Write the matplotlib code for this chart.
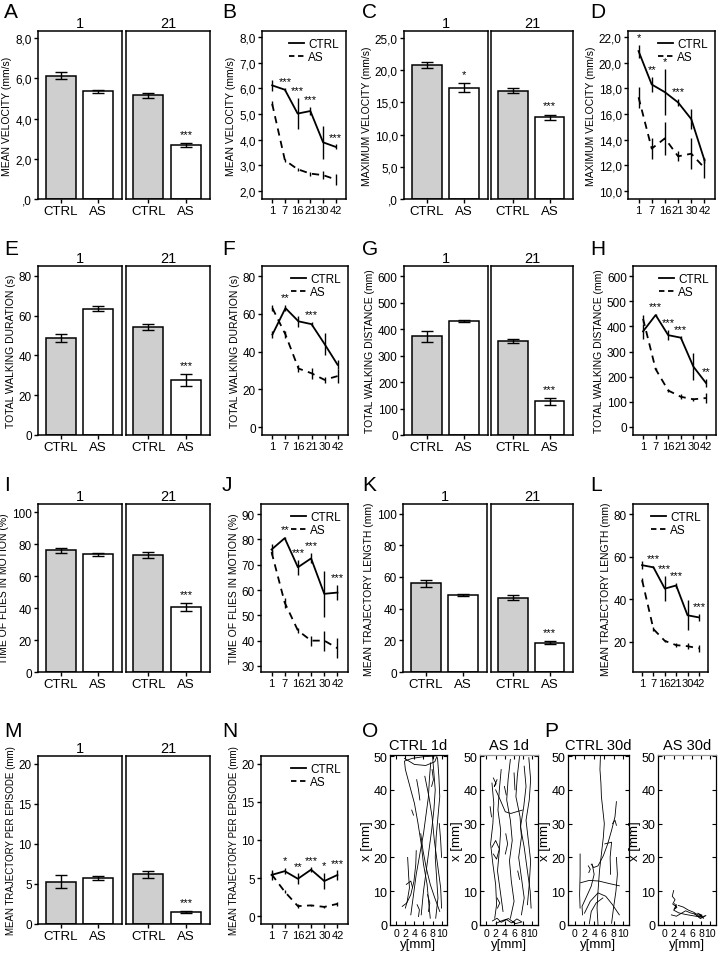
import numpy as np
import matplotlib
matplotlib.use('Agg')
import matplotlib.pyplot as plt
from matplotlib.lines import Line2D

plt.rcParams['font.family'] = ['Liberation Sans', 'DejaVu Sans']

W, H = 720, 954

groups = ['CTRL', 'AS']
days = ['1', '7', '16', '21', '30', '42']
bar_days = ['1', '21']

# mean velocity (A, B)
mv_bar_ctrl = [6.12, 5.15]
mv_bar_ctrl_err = [0.18, 0.13]
mv_bar_as = [5.35, 2.68]
mv_bar_as_err = [0.08, 0.08]
mv_bar_stars = ['', '***']
mv_ctrl = [6.12, 5.95, 5.02, 5.12, 3.90, 3.72]
mv_ctrl_err = [0.2, 0.05, 0.6, 0.15, 0.65, 0.1]
mv_as = [5.40, 3.20, 2.85, 2.68, 2.62, 2.45]
mv_as_err = [0.1, 0.05, 0.05, 0.08, 0.15, 0.2]
mv_stars = ['', '***', '***', '***', '', '***']

# maximum velocity (C, D)
mx_bar_ctrl = [20.8, 16.8]
mx_bar_ctrl_err = [0.5, 0.4]
mx_bar_as = [17.3, 12.7]
mx_bar_as_err = [0.7, 0.4]
mx_bar_stars = ['*', '***']
mx_ctrl = [20.9, 18.3, 17.7, 16.9, 15.6, 12.4]
mx_ctrl_err = [0.5, 0.6, 1.8, 0.3, 0.8, 0.2]
mx_as = [17.3, 13.3, 14.1, 12.7, 12.9, 11.8]
mx_as_err = [0.8, 0.8, 1.3, 0.4, 1.2, 0.8]
mx_stars = ['*', '**', '*', '***', '', '']

# total walking duration (E, F)
wd_bar_ctrl = [49, 54.5]
wd_bar_ctrl_err = [2, 1.5]
wd_bar_as = [63.5, 27.5]
wd_bar_as_err = [1.2, 3]
wd_bar_stars = ['', '***']
wd_ctrl = [49, 63, 56, 54.5, 44, 33]
wd_ctrl_err = [2, 1.5, 3, 1, 6, 2.5]
wd_as = [63, 49, 31, 28.5, 25, 27]
wd_as_err = [1.5, 2, 2, 3, 1.5, 3.5]
wd_stars = ['', '**', '', '***', '', '']

# total walking distance (G, H)
dist_bar_ctrl = [372, 355]
dist_bar_ctrl_err = [20, 8]
dist_bar_as = [430, 127]
dist_bar_as_err = [4, 12]
dist_bar_stars = ['', '***']
dist_ctrl = [380, 445, 365, 355, 240, 175]
dist_ctrl_err = [30, 5, 20, 5, 55, 15]
dist_as = [430, 230, 145, 120, 110, 115]
dist_as_err = [15, 5, 5, 10, 5, 20]
dist_stars = ['', '***', '***', '***', '', '**']

# time of flies in motion (I, J)
mot_bar_ctrl = [76, 73]
mot_bar_ctrl_err = [1.5, 2]
mot_bar_as = [73.5, 40.5]
mot_bar_as_err = [0.8, 2.5]
mot_bar_stars = ['', '***']
mot_ctrl = [76, 80.5, 69, 72.5, 58.5, 59]
mot_ctrl_err = [2, 0.5, 3, 2, 9, 3]
mot_as = [75, 55, 44, 40, 40, 37]
mot_as_err = [1, 2, 1, 2, 4, 4]
mot_stars = ['', '**', '***', '***', '', '***']

# mean trajectory length (K, L)
tl_bar_ctrl = [56, 47]
tl_bar_ctrl_err = [2.2, 1.5]
tl_bar_as = [48.5, 18.5]
tl_bar_as_err = [0.5, 1]
tl_bar_stars = ['', '***']
tl_ctrl = [56, 55, 45, 46.5, 32.5, 31.5]
tl_ctrl_err = [2, 0.5, 6, 1, 7, 1.8]
tl_as = [49, 26, 20.5, 18.5, 18, 17]
tl_as_err = [1, 1, 0.5, 1, 1.5, 1.5]
tl_stars = ['', '***', '***', '***', '', '***']

# mean trajectory per episode (M, N)
ep_bar_ctrl = [5.3, 6.2]
ep_bar_ctrl_err = [0.85, 0.4]
ep_bar_as = [5.7, 1.5]
ep_bar_as_err = [0.25, 0.1]
ep_bar_stars = ['', '***']
ep_ctrl = [5.4, 5.9, 4.9, 6.1, 4.6, 5.4]
ep_ctrl_err = [0.7, 0.4, 0.7, 0.3, 1.1, 0.6]
ep_as = [5.5, 3.2, 1.3, 1.4, 1.2, 1.6]
ep_as_err = [0.3, 0.2, 0.3, 0.1, 0.1, 0.3]
ep_stars = ['', '*', '**', '***', '*', '***']

ctrl1_paths = [
    [(8.6, 50), (6, 49.8), (3.5, 49.3), (1.8, 48.5), (2, 46), (3, 41), (4, 36), (4.8, 30), (5.5, 24), (6, 18), (6.8, 12), (7.2, 6), (7.5, 2)],
    [(1.8, 49.3), (4, 47.5), (6.5, 47.2), (8.5, 48.3), (9, 50)],
    [(8, 50), (8.3, 45), (8.6, 40), (8.3, 34), (7.8, 28), (7.2, 22), (6.6, 16), (6, 10), (5.5, 3)],
    [(9.1, 49.5), (9.4, 44), (9.6, 38), (9.2, 32), (8.8, 26), (8.6, 20), (8.9, 14), (9.2, 8), (8.7, 2)],
    [(7.6, 48), (7.3, 43), (7.1, 38), (6.6, 33), (6, 27), (5.2, 21), (4.4, 15), (3.8, 9), (3.2, 3)],
    [(2.5, 20), (2.7, 15), (2.9, 11), (2.4, 7), (2, 5)],
    [(5.4, 27), (5.9, 22), (6.6, 17), (7.5, 12), (8.5, 8), (9.6, 4)],
    [(6.3, 44), (7.2, 38), (7.9, 32), (8.4, 25), (9.1, 18), (9.8, 11), (10, 5)],
    [(1.3, 5.5), (2.3, 6.5), (3.2, 9), (3.9, 13), (4.3, 18), (4.4, 22)],
    [(4.5, 43), (4.9, 40), (5.2, 37)],
    [(3.4, 34), (3.8, 32.5)],
    [(2.2, 12), (3.2, 13), (3.6, 11)],
    [(9.5, 30), (9.8, 25), (10, 20)],
    [(7.9, 46), (8.2, 43), (7.8, 41)],
    [(6.9, 9), (7.4, 6.5), (7.1, 4)],
    [(4.6, 6), (5.1, 4.5), (4.9, 2.5)],
]
as1_paths = [
    [(1.2, 42), (1.6, 36), (1.4, 30), (0.9, 24), (1.4, 18), (2, 12), (2.2, 6), (1.8, 2)],
    [(3.2, 46), (2.8, 40), (2.5, 34), (3.1, 28), (2.8, 22), (2.4, 16), (3, 10), (3.6, 4)],
    [(5.2, 49), (4.7, 43), (4.4, 37), (5.2, 31), (5.6, 25), (5, 19), (5.4, 13), (6, 7), (5.2, 2)],
    [(7.2, 50), (6.7, 44), (6.4, 38), (7.3, 32), (7.6, 26), (7, 20), (7.6, 14), (8.2, 8), (7.6, 3)],
    [(9.2, 49.5), (9.6, 43), (9.3, 37), (8.6, 31), (9.1, 25), (9.6, 19), (9.3, 12), (8.9, 6)],
    [(8.2, 47), (8.6, 41), (8.1, 35), (7.4, 29), (8.2, 23), (8.8, 17), (9.5, 10), (9.7, 5)],
    [(2, 40), (3, 37), (4.1, 33.5), (5.3, 33), (6.5, 33.5), (7.8, 34)],
    [(1.2, 23), (2, 25), (2.8, 22.5), (2.2, 19.5), (1.5, 21)],
    [(1.3, 1.2), (2.3, 2), (3.2, 0.8), (4.4, 1.6), (5.5, 0.6), (6.6, 1.8), (7.7, 0.9), (6.3, 0.4), (4.8, 1.9), (3.4, 1.3), (2.1, 0.5)],
    [(1.5, 43.5), (2.1, 41.8), (1.7, 41), (2.3, 43)],
    [(4.2, 27), (4.6, 24), (4.1, 21)],
    [(6, 45), (6.2, 40)],
    [(2.3, 8), (2.9, 6.5), (2.4, 5)],
    [(3.9, 41), (4.3, 38.5)],
    [(6.8, 16), (7.2, 13.5)],
    [(0.8, 35), (1.1, 32)],
]
ctrl30_paths = [
    [(5.3, 50), (5.2, 46), (5.4, 42), (5.5, 38), (5.8, 34), (6.1, 30), (5.9, 26), (5.5, 21), (5.1, 16), (4.8, 10), (4.6, 5), (4.8, 0)],
    [(1.1, 21), (1.1, 15), (1, 9), (1.1, 5)],
    [(8.6, 36.5), (8.3, 32), (7.6, 28), (6.8, 24), (5.9, 20.5), (4.8, 17.5), (3.9, 17), (3.4, 18)],
    [(3.6, 18), (4, 15), (3.4, 11.5), (2.3, 8), (1.5, 5.5), (1.6, 3)],
    [(1.2, 12.5), (3, 13.2), (5, 13), (7, 12.3), (9.2, 11.6)],
    [(8.6, 20), (8.8, 15), (8.5, 10), (8, 5), (7.6, 0.5)],
    [(2, 3.5), (3.2, 7), (4.8, 9.5), (6.4, 8.5), (7.8, 6), (9.2, 3)],
    [(6.2, 24), (7.6, 24.5), (7.3, 20), (7.4, 15)],
    [(3, 0.3), (3.4, 4), (4.4, 6.5), (5.8, 8)],
    [(2.8, 17.5), (3.2, 16.5), (2.9, 15.5)],
    [(7.8, 30), (8.3, 31), (8.6, 29.5)],
]
as30_paths = [
    [(2, 10.2), (1.7, 8.5), (2.3, 7.5), (1.8, 6.2), (2.6, 5.4), (2, 4.4), (3.1, 3.6), (4.3, 3.2), (5.5, 2.9), (6.8, 2.6), (7.9, 2.3), (9, 2.8)],
    [(1.5, 3), (2.6, 2.6), (3.6, 3.4), (4.6, 4.2), (5.6, 3.6), (6.7, 3.2), (7.8, 1.9), (8.8, 2.6)],
    [(3, 5.8), (4.1, 5.3), (5.2, 4.4), (6.3, 3.8), (7.4, 2.9), (8.5, 2)],
    [(2.2, 6.3), (2.7, 5.2), (2.1, 4.7), (2.6, 6)],
    [(6.5, 3.3), (7.5, 2.4), (8.2, 2.9), (7.2, 3.5), (8.4, 2.2)],
]


def box(l, t, r, b):
    return [l / W, 1 - b / H, (r - l) / W, (b - t) / H]


fig = plt.figure(figsize=(W / 100, H / 100), dpi=100)


def letter(txt, x, y):
    fig.text(x / W, 1 - y / H, txt, fontsize=15, ha='left', va='top')


def style(ax):
    for s in ax.spines.values():
        s.set_linewidth(1.1)
    ax.tick_params(width=1, length=3, pad=1.5)


def bar_panel(l, m1, m2, r, t, b, ctrl, ctrl_err, as_, as_err, stars,
              ylim, yticks, ylabels, ylabel, lab_size=7.5):
    ax1 = fig.add_axes(box(l, t, m1, b))
    ax2 = fig.add_axes(box(m2, t, r, b))
    for i, ax in enumerate([ax1, ax2]):
        ax.bar([0, 1], [ctrl[i], as_[i]], width=0.8,
               color=['#cfcfcf', 'white'], edgecolor='black', linewidth=1.1)
        ax.errorbar([0, 1], [ctrl[i], as_[i]], yerr=[ctrl_err[i], as_err[i]],
                    fmt='none', ecolor='black', elinewidth=1, capsize=4, capthick=1)
        if stars[i]:
            ax.annotate(stars[i], (1, as_[i] + as_err[i]), xytext=(0, 3),
                        textcoords='offset points', ha='center', va='bottom', fontsize=8)
        ax.set_xlim(-0.6, 1.64)
        ax.set_ylim(*ylim)
        ax.set_xticks([0, 1])
        ax.set_xticklabels(groups, fontsize=9.5)
        ax.set_title(bar_days[i], fontsize=10.5, pad=3)
        style(ax)
    ax1.set_yticks(yticks)
    ax1.set_yticklabels(ylabels, fontsize=8.5)
    ax1.set_ylabel(ylabel, fontsize=lab_size, labelpad=2)
    ax2.set_yticks([])


def line_panel(l, r, t, b, ctrl, ctrl_err, as_, as_err, stars,
               ylim, yticks, ylabels, ylabel, lab_size=7.5):
    ax = fig.add_axes(box(l, t, r, b))
    x = np.arange(len(days))
    ax.errorbar(x, ctrl, yerr=ctrl_err, fmt='none', ecolor='black', elinewidth=1)
    ax.errorbar(x, as_, yerr=as_err, fmt='none', ecolor='black', elinewidth=1)
    ax.plot(x, ctrl, color='black', lw=1.3)
    ax.plot(x, as_, color='black', lw=1.3, ls=(0, (4, 3)))
    for i, s in enumerate(stars):
        if s:
            ax.annotate(s, (i, ctrl[i] + ctrl_err[i]), xytext=(0, 2),
                        textcoords='offset points', ha='center', va='bottom', fontsize=8)
    ax.set_xlim(-0.8, 5.8)
    ax.set_ylim(*ylim)
    ax.set_xticks(x)
    ax.set_xticklabels(days, fontsize=8)
    ax.set_yticks(yticks)
    ax.set_yticklabels(ylabels, fontsize=8.5)
    ax.set_ylabel(ylabel, fontsize=lab_size, labelpad=2)
    style(ax)
    handles = [Line2D([], [], color='black', lw=1.3),
               Line2D([], [], color='black', lw=1.3, ls=(0, (3, 2)))]
    ax.legend(handles, groups, loc='upper right', frameon=False, fontsize=8.5,
              handlelength=1.2, handletextpad=0.4, labelspacing=0.05,
              borderaxespad=0.2)


def track_panel(l, r, paths, title, top_color='black'):
    ax = fig.add_axes(box(l, 756, r, 926))
    for p in paths:
        ax.plot([q[0] for q in p], [q[1] for q in p], color='black', lw=0.6)
    ax.set_xlim(-1.4, 11.2)
    ax.set_ylim(0, 50.3)
    ax.set_xticks([0, 2, 4, 6, 8, 10])
    ax.set_yticks([0, 10, 20, 30, 40, 50])
    ax.tick_params(direction='in', top=True, right=True, labelsize=9,
                   length=3, width=0.8, pad=2)
    ax.tick_params(axis='x', labelsize=7.5)
    for s in ax.spines.values():
        s.set_linewidth(0.9)
    ax.spines['top'].set_color(top_color)
    ax.set_xlabel('y[mm]', fontsize=9.5, labelpad=0)
    ax.set_ylabel('x [mm]', fontsize=9.5, labelpad=0)
    ax.set_title(title, fontsize=10.5, pad=4)


def ticks(lo, hi, step):
    return list(np.arange(lo, hi + step / 2, step))


# row 1
bar_panel(38, 122, 126, 210, 32, 200, mv_bar_ctrl, mv_bar_ctrl_err, mv_bar_as,
          mv_bar_as_err, mv_bar_stars, (0, 8.35), ticks(0, 8, 2),
          [',0', '2,0', '4,0', '6,0', '8,0'], 'MEAN VELOCITY (mm/s)')
line_panel(262, 346, 32, 200, mv_ctrl, mv_ctrl_err, mv_as, mv_as_err, mv_stars,
           (1.69, 8.24), ticks(2, 8, 1),
           ['2,0', '3,0', '4,0', '5,0', '6,0', '7,0', '8,0'], 'MEAN VELOCITY (mm/s)')
bar_panel(404, 488, 491, 573, 32, 200, mx_bar_ctrl, mx_bar_ctrl_err, mx_bar_as,
          mx_bar_as_err, mx_bar_stars, (0, 26.1), ticks(0, 25, 5),
          [',0', '5,0', '10,0', '15,0', '20,0', '25,0'], 'MAXIMUM VELOCITY (mm/s)')
line_panel(628, 715, 32, 200, mx_ctrl, mx_ctrl_err, mx_as, mx_as_err, mx_stars,
           (9.37, 22.47), ticks(10, 22, 2),
           ['10,0', '12,0', '14,0', '16,0', '18,0', '20,0', '22,0'], 'MAXIMUM VELOCITY (mm/s)')

# row 2
bar_panel(38, 122, 126, 210, 267, 436, wd_bar_ctrl, wd_bar_ctrl_err, wd_bar_as,
          wd_bar_as_err, wd_bar_stars, (0, 85), ticks(0, 80, 20),
          ['0', '20', '40', '60', '80'], 'TOTAL WALKING DURATION (s)')
line_panel(262, 348, 267, 436, wd_ctrl, wd_ctrl_err, wd_as, wd_as_err, wd_stars,
           (-4.2, 85.3), ticks(0, 80, 20),
           ['0', '20', '40', '60', '80'], 'TOTAL WALKING DURATION (s)')
bar_panel(404, 488, 491, 573, 267, 436, dist_bar_ctrl, dist_bar_ctrl_err, dist_bar_as,
          dist_bar_as_err, dist_bar_stars, (0, 638), ticks(0, 600, 100),
          ['0', '100', '200', '300', '400', '500', '600'], 'TOTAL WALKING DISTANCE (mm)')
line_panel(633, 716, 267, 436, dist_ctrl, dist_ctrl_err, dist_as, dist_as_err, dist_stars,
           (-32, 640), ticks(0, 600, 100),
           ['0', '100', '200', '300', '400', '500', '600'], 'TOTAL WALKING DISTANCE (mm)')

# row 3
bar_panel(38, 122, 126, 210, 505, 673, mot_bar_ctrl, mot_bar_ctrl_err, mot_bar_as,
          mot_bar_as_err, mot_bar_stars, (0, 105), ticks(0, 100, 20),
          ['0', '20', '40', '60', '80', '100'], 'TIME OF FLIES IN MOTION (%)')
line_panel(261, 348, 505, 673, mot_ctrl, mot_ctrl_err, mot_as, mot_as_err, mot_stars,
           (27.6, 94), ticks(30, 90, 10),
           ['30', '40', '50', '60', '70', '80', '90'], 'TIME OF FLIES IN MOTION (%)')
bar_panel(403, 487, 491, 573, 505, 673, tl_bar_ctrl, tl_bar_ctrl_err, tl_bar_as,
          tl_bar_as_err, tl_bar_stars, (0, 106), ticks(0, 100, 20),
          ['0', '20', '40', '60', '80', '100'], 'MEAN TRAJECTORY LENGTH (mm)')
line_panel(633, 708, 505, 673, tl_ctrl, tl_ctrl_err, tl_as, tl_as_err, tl_stars,
           (5.9, 84.7), ticks(20, 80, 20),
           ['20', '40', '60', '80'], 'MEAN TRAJECTORY LENGTH (mm)')

# row 4
bar_panel(38, 122, 126, 210, 757, 925, ep_bar_ctrl, ep_bar_ctrl_err, ep_bar_as,
          ep_bar_as_err, ep_bar_stars, (0, 21), ticks(0, 20, 5),
          ['0', '5', '10', '15', '20'], 'MEAN TRAJECTORY PER EPISODE (mm)', lab_size=7)
line_panel(261, 348, 757, 925, ep_ctrl, ep_ctrl_err, ep_as, ep_as_err, ep_stars,
           (-1.05, 21.05), ticks(0, 20, 5),
           ['0', '5', '10', '15', '20'], 'MEAN TRAJECTORY PER EPISODE (mm)', lab_size=7)

track_panel(390, 447, ctrl1_paths, 'CTRL 1d')
track_panel(480, 538, as1_paths, 'AS 1d', top_color='#999999')
track_panel(568, 629, ctrl30_paths, 'CTRL 30d')
track_panel(658, 716, as30_paths, 'AS 30d', top_color='#999999')

for txt, x, y in [('A', 4, 3), ('B', 222, 3), ('C', 362, 3), ('D', 590, 3),
                  ('E', 4, 240), ('F', 222, 240), ('G', 362, 240), ('H', 590, 240),
                  ('I', 4, 476), ('J', 222, 476), ('K', 362, 476), ('L', 590, 476),
                  ('M', 4, 722), ('N', 222, 722), ('O', 362, 722), ('P', 544, 722)]:
    letter(txt, x, y)

fig.savefig('out.png', dpi=100)
